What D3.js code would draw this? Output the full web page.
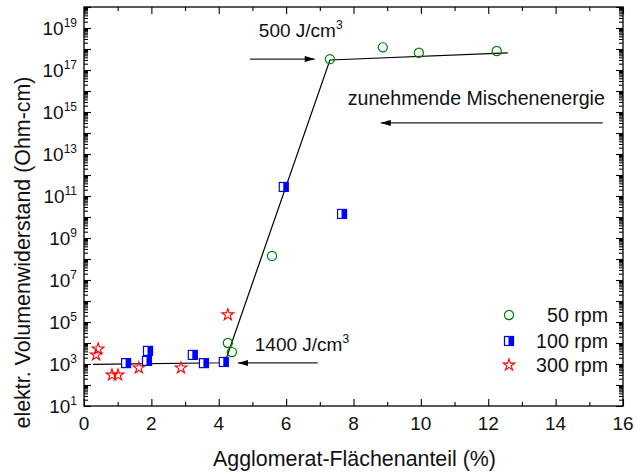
<!DOCTYPE html>
<html>
<head>
<meta charset="utf-8">
<script src="https://cdn.jsdelivr.net/npm/d3@7"></script>
<style>
  html, body { margin: 0; padding: 0; background: #fff; }
  svg { display: block; font-family: "Liberation Sans", Arial, sans-serif; }
</style>
</head>
<body>
<svg id="chart" width="636" height="472"></svg>
<script>
// Agglomerate area fraction (%) vs. volume resistivity (Ohm-cm)
const rpm50X = [7.30, 8.87, 9.94, 12.25, 5.58, 4.27, 4.39];
const rpm50Y = [3.3e17, 1.2e18, 6.6e17, 8.0e17, 1.4e8, 1.0e4, 3.7e3];

const rpm100X = [1.25, 1.90, 1.87, 3.23, 3.56, 4.15, 5.93, 7.66];
const rpm100Y = [1.1e3, 4.2e3, 1.4e3, 2.7e3, 1.1e3, 1.25e3, 2.7e11, 1.4e10];

const rpm300X = [0.42, 0.36, 0.83, 1.01, 1.63, 2.88, 4.27];
const rpm300Y = [5.2e3, 2.7e3, 3.0e2, 3.0e2, 6.5e2, 6.5e2, 2.2e5];

// Guide line through the three regimes
const guideX = [0.27, 4.18, 7.30, 12.58];
const guideY = [9.5e2, 1.15e3, 3.0e17, 6.5e17];

const legendLabels = ["50 rpm", "100 rpm", "300 rpm"];
const xTicks = [0, 2, 4, 6, 8, 10, 12, 14, 16];
const yLabelExps = [1, 3, 5, 7, 9, 11, 13, 15, 17, 19];

const svg = d3.select("#chart");
const pLeft = 84, pRight = 623, pTop = 7, pBottom = 406;

const x = d3.scaleLinear().domain([0, 16]).range([pLeft, pRight]);
const y = d3.scaleLog().domain([1e1, 1e20]).range([pBottom, pTop]);

const GREEN = "#008000", BLUE = "#0000ff", RED = "#ff0000";
const FS = 19;      // tick labels
const FS_ANN = 19.6; // annotations and legend
const FS_TITLE = 21.4;

// tick values
const xMinor = d3.range(1, 16, 2);
const yMajor = d3.range(1, 21).map(e => Math.pow(10, e));
const yMinor = [];
for (let e = 1; e < 20; e++) for (let k = 2; k <= 9; k++) yMinor.push(k * Math.pow(10, e));

function styleAxis(g) {
  g.select(".domain").remove();
  g.selectAll("line").attr("stroke", "#000").attr("stroke-width", 1.1);
}

// inward ticks on all four sides
svg.append("g").attr("transform", `translate(0,${pBottom})`)
  .call(d3.axisTop(x).tickValues(xTicks).tickSize(7).tickFormat("")).call(styleAxis);
svg.append("g").attr("transform", `translate(0,${pBottom})`)
  .call(d3.axisTop(x).tickValues(xMinor).tickSize(4).tickFormat("")).call(styleAxis);
svg.append("g").attr("transform", `translate(0,${pTop})`)
  .call(d3.axisBottom(x).tickValues(xTicks).tickSize(7).tickFormat("")).call(styleAxis);
svg.append("g").attr("transform", `translate(0,${pTop})`)
  .call(d3.axisBottom(x).tickValues(xMinor).tickSize(4).tickFormat("")).call(styleAxis);

svg.append("g").attr("transform", `translate(${pLeft},0)`)
  .call(d3.axisRight(y).tickValues(yMajor).tickSize(7).tickFormat("")).call(styleAxis);
svg.append("g").attr("transform", `translate(${pLeft},0)`)
  .call(d3.axisRight(y).tickValues(yMinor).tickSize(4).tickFormat("")).call(styleAxis);
svg.append("g").attr("transform", `translate(${pRight},0)`)
  .call(d3.axisLeft(y).tickValues(yMajor).tickSize(7).tickFormat("")).call(styleAxis);
svg.append("g").attr("transform", `translate(${pRight},0)`)
  .call(d3.axisLeft(y).tickValues(yMinor).tickSize(4).tickFormat("")).call(styleAxis);

// frame
svg.append("rect")
  .attr("x", pLeft).attr("y", pTop)
  .attr("width", pRight - pLeft).attr("height", pBottom - pTop)
  .attr("fill", "none").attr("stroke", "#000").attr("stroke-width", 1.3);

// x tick labels
svg.append("g").selectAll("text").data(xTicks).join("text")
  .attr("x", d => x(d)).attr("y", pBottom + 24)
  .attr("text-anchor", "middle").attr("font-size", FS).attr("fill", "#111")
  .text(d => d);

// y tick labels as 10 with superscript exponent
const yl = svg.append("g").selectAll("text").data(yLabelExps).join("text")
  .attr("x", pLeft - 7).attr("y", e => y(Math.pow(10, e)) + 7)
  .attr("text-anchor", "end").attr("font-size", FS).attr("fill", "#111");
yl.append("tspan").text("10");
yl.append("tspan").attr("font-size", 12).attr("dy", -8).text(e => e);

// axis titles
svg.append("text")
  .attr("x", (pLeft + pRight) / 2 + 1).attr("y", 466)
  .attr("text-anchor", "middle").attr("font-size", FS_TITLE).attr("fill", "#111")
  .text("Agglomerat-Flächenanteil (%)");
svg.append("text")
  .attr("transform", `translate(30,${(pTop + pBottom) / 2 + 46}) rotate(-90)`)
  .attr("text-anchor", "middle").attr("font-size", FS_TITLE).attr("fill", "#111")
  .text("elektr. Volumenwiderstand (Ohm-cm)");

// guide line
const guide = guideX.map((v, i) => [v, guideY[i]]);
svg.append("path")
  .attr("d", d3.line().x(d => x(d[0])).y(d => y(d[1]))(guide))
  .attr("fill", "none").attr("stroke", "#000").attr("stroke-width", 1.2);

// arrowhead marker
svg.append("defs").append("marker")
  .attr("id", "head").attr("viewBox", "0 0 10 6")
  .attr("refX", 10).attr("refY", 3)
  .attr("markerWidth", 11).attr("markerHeight", 6)
  .attr("markerUnits", "userSpaceOnUse").attr("orient", "auto")
  .append("path").attr("d", "M0,0 L10,3 L0,6 Z").attr("fill", "#000");

// annotation arrows: [x start, x end, y]
const arrows = [
  [4.93, 6.85, Math.pow(10, 17.52)],
  [15.4, 8.81, Math.pow(10, 14.48)],
  [6.94, 4.57, Math.pow(10, 3.05)]
];
svg.append("g").selectAll("line").data(arrows).join("line")
  .attr("x1", d => x(d[0])).attr("x2", d => x(d[1]))
  .attr("y1", d => y(d[2])).attr("y2", d => y(d[2]))
  .attr("stroke", "#222").attr("stroke-width", 1.2)
  .attr("marker-end", "url(#head)");

function energyLabel(xv, yv, value) {
  const t = svg.append("text")
    .attr("x", x(xv)).attr("y", y(yv))
    .attr("font-size", FS).attr("fill", "#111");
  t.append("tspan").text(value + " J/cm");
  t.append("tspan").attr("font-size", 12).attr("dy", -8).text("3");
}
energyLabel(5.19, Math.pow(10, 18.57), "500");
energyLabel(5.07, Math.pow(10, 3.62), "1400");
svg.append("text")
  .attr("x", x(7.83)).attr("y", y(Math.pow(10, 15.33)))
  .attr("font-size", FS_ANN).attr("fill", "#111")
  .text("zunehmende Mischenenergie");

// markers
const circleSym = d3.symbol().type(d3.symbolCircle).size(66);
const starSym = d3.symbol().type(d3.symbolStar).size(42);

function drawCircle(g, cx, cy) {
  g.append("path").attr("d", circleSym())
    .attr("transform", `translate(${cx},${cy})`)
    .attr("fill", "none").attr("stroke", GREEN).attr("stroke-width", 1.2);
}
function drawHalfSquare(g, cx, cy) {
  const s = 9;
  g.append("rect").attr("x", cx - s / 2).attr("y", cy - s / 2)
    .attr("width", s).attr("height", s)
    .attr("fill", "#fff").attr("stroke", BLUE).attr("stroke-width", 1.2);
  g.append("rect").attr("x", cx - 0.5).attr("y", cy - s / 2)
    .attr("width", s / 2 + 0.5).attr("height", s)
    .attr("fill", BLUE);
}
function drawStar(g, cx, cy) {
  g.append("path").attr("d", starSym())
    .attr("transform", `translate(${cx},${cy})`)
    .attr("fill", "none").attr("stroke", RED).attr("stroke-width", 1.1);
}

const marks = svg.append("g");
rpm300X.forEach((v, i) => drawStar(marks, x(v), y(rpm300Y[i])));
rpm100X.forEach((v, i) => drawHalfSquare(marks, x(v), y(rpm100Y[i])));
rpm50X.forEach((v, i) => drawCircle(marks, x(v), y(rpm50Y[i])));

// legend
const legY = [315, 341, 365];
const drawers = [drawCircle, drawHalfSquare, drawStar];
const leg = svg.append("g");
legendLabels.forEach((lab, i) => {
  drawers[i](leg, 509, legY[i]);
  leg.append("text")
    .attr("x", 608).attr("y", legY[i] + 7)
    .attr("text-anchor", "end").attr("font-size", FS_ANN).attr("fill", "#111")
    .text(lab);
});
</script>
</body>
</html>
